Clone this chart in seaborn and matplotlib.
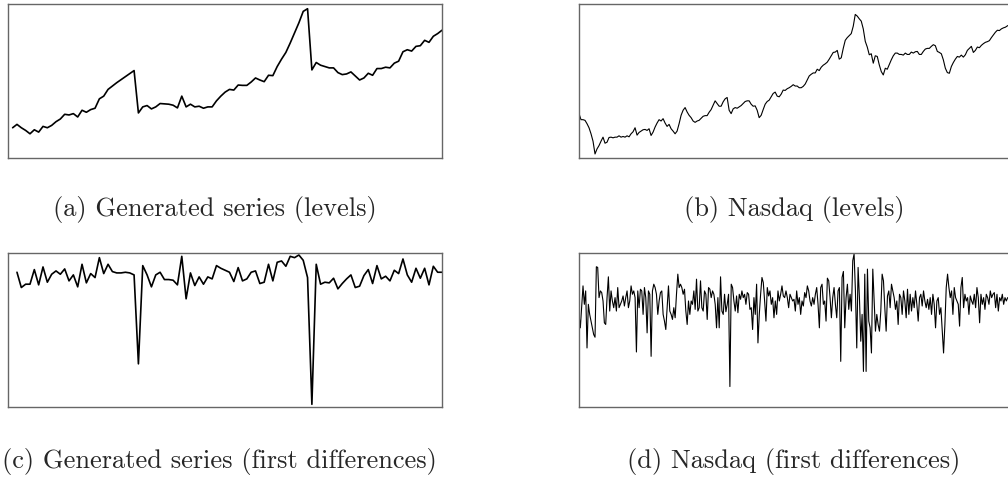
import numpy as np
import matplotlib
matplotlib.use("Agg")
import matplotlib.pyplot as plt
import seaborn as sns

# generated series, levels (index 0..99)
gen_levels = [9.0, 10.0, 9.0, 8.2, 7.2, 8.4, 7.7, 9.4, 9.0, 9.7,
              10.8, 11.6, 13.0, 12.8, 13.2, 12.2, 14.2, 13.6, 14.4, 14.8,
              17.6, 18.4, 20.4, 21.4, 22.4, 23.3, 24.2, 25.1, 26.0, 13.4,
              15.2, 15.6, 14.6, 15.2, 16.2, 16.1, 16.0, 15.7, 14.9, 18.4,
              15.2, 16.0, 15.2, 15.4, 14.8, 15.2, 15.2, 17.0, 18.4, 19.6,
              20.4, 20.2, 21.7, 21.6, 21.6, 22.6, 23.8, 23.2, 22.7, 24.6,
              24.5, 27.2, 29.4, 31.4, 34.2, 37.2, 40.2, 43.6, 44.4, 26.2,
              28.4, 27.6, 27.2, 26.8, 26.8, 25.4, 24.8, 25.0, 25.6, 24.4,
              23.2, 23.8, 25.2, 24.6, 26.6, 26.6, 27.0, 26.8, 28.2, 28.8,
              31.6, 32.2, 31.8, 33.2, 33.4, 35.0, 34.4, 36.2, 37.0, 38.0]

# generated series, first differences (index 1..99)
gen_diff = [0.8, -3.8, -2.8, -2.8, 1.6, -3.0, 2.4, -2.2, 0.2, 1.2,
            0.2, 1.8, -1.8, 0.0, -3.6, 3.2, -2.4, 0.4, -0.8, 5.2,
            0.4, 3.2, 1.0, 0.6, 0.6, 0.8, 0.6, 0.0, -26.8, 2.8,
            0.0, -3.6, 0.0, 0.8, -1.4, -1.4, -1.6, -3.0, 5.6, -7.2,
            0.6, -3.2, -0.6, -2.8, -0.6, -1.2, 2.8, 2.0, 1.4, 0.8,
            -2.0, 2.2, -1.8, -1.2, 0.8, 1.2, -2.6, -2.2, 3.2, -1.8,
            3.8, 4.2, 2.6, 5.6, 5.2, 6.0, 4.4, -0.8, -39.0, 3.2,
            -2.8, -2.2, -2.4, -1.0, -4.2, -2.6, -1.2, 0.0, -3.8, -3.4,
            -0.2, 1.6, -2.6, 2.8, -1.2, -0.4, -1.8, 1.4, 0.4, 4.8,
            0.0, -2.2, 2.0, -1.0, 2.0, -3.0, 2.6, 0.8, 0.8]

# nasdaq, levels
nasdaq_levels = [13.2, 11.4, 11.4, 11.2, 10.2, 9.0, 7.2, 5.0, 1.2, 2.7,
                 3.7, 5.0, 6.2, 4.4, 4.7, 6.1, 6.2, 6.0, 6.2, 6.2,
                 6.6, 6.2, 6.4, 6.2, 6.6, 6.3, 7.2, 7.8, 9.0, 6.8,
                 7.6, 8.0, 8.4, 8.5, 8.2, 8.7, 6.7, 7.7, 9.2, 10.4,
                 11.4, 11.0, 11.7, 10.4, 9.4, 10.0, 8.7, 8.0, 7.2, 8.0,
                 10.2, 12.7, 14.2, 15.0, 13.7, 12.7, 12.0, 11.0, 10.6, 11.0,
                 11.2, 11.8, 12.4, 12.6, 12.6, 13.6, 14.4, 15.7, 17.0, 16.2,
                 15.4, 15.4, 16.7, 17.6, 18.0, 14.2, 13.2, 14.6, 15.0, 14.8,
                 15.2, 15.6, 16.2, 16.8, 17.0, 17.0, 16.0, 15.4, 15.5, 14.2,
                 12.0, 12.7, 14.4, 16.0, 16.8, 17.2, 18.2, 19.2, 19.6, 18.4,
                 18.2, 19.0, 20.2, 20.1, 20.6, 20.9, 21.3, 21.8, 21.4, 21.4,
                 20.9, 20.9, 21.3, 22.0, 23.2, 24.4, 24.9, 25.3, 25.3, 26.4,
                 26.0, 27.0, 27.6, 28.0, 28.5, 29.4, 30.4, 31.4, 31.5, 32.0,
                 29.4, 29.8, 32.6, 35.0, 35.8, 36.4, 37.0, 39.2, 42.7, 42.2,
                 41.4, 40.7, 38.4, 34.7, 33.0, 30.7, 31.0, 28.2, 30.4, 30.2,
                 27.7, 25.7, 24.7, 26.7, 26.4, 27.8, 29.2, 30.4, 31.2, 31.2,
                 30.8, 30.8, 30.6, 31.2, 30.8, 30.8, 31.5, 31.2, 31.6, 31.7,
                 30.8, 30.8, 31.7, 32.4, 32.6, 32.6, 33.2, 33.7, 33.4, 31.7,
                 31.4, 31.0, 29.2, 26.7, 25.4, 25.2, 27.2, 28.4, 29.4, 30.2,
                 30.0, 30.6, 30.0, 30.7, 32.0, 32.6, 33.2, 31.4, 32.0, 33.0,
                 32.8, 33.5, 34.0, 34.4, 34.6, 34.9, 35.8, 36.6, 37.4, 38.0,
                 37.9, 38.4, 38.7, 38.9, 39.3, 39.6, 40.0, 40.2]

# nasdaq, first differences
nasdaq_diff = [-4.0, -8.0, -2.0, 4.5, -1.0, 3.0, -14.0, -1.0, -4.0, -6.0,
               -8.0, -10.0, -10.8, 10.2, 10.0, 1.0, 3.0, 2.5, 0.0, -6.5,
               -7.0, 1.0, 7.2, -3.0, 3.0, 0.0, -2.0, 1.0, -3.0, 4.0,
               -2.0, -1.0, 0.0, 1.5, -1.5, 1.0, 3.0, -2.0, 0.0, 4.5,
               2.0, 3.0, 1.0, -15.2, 3.0, -2.0, 3.5, 3.0, -4.0, 4.0,
               1.0, -9.5, 3.0, 2.0, -16.5, 3.0, 5.0, 4.0, 2.0, -4.0,
               0.0, 2.5, 3.0, -4.0, -6.0, -8.5, -2.0, 4.5, -3.0, -4.0,
               -5.5, -2.0, -5.0, 2.0, 8.0, 4.0, 5.0, 4.0, 2.0, 3.5,
               -3.0, -7.0, 0.0, -4.0, 0.0, -1.0, 3.0, -2.5, 6.5, -3.0,
               -2.0, 6.0, -2.0, -3.0, 3.0, 2.0, -5.5, 4.0, 3.5, 1.0,
               3.0, 2.0, -1.0, -8.0, 1.0, -8.0, 7.2, -3.0, -4.0, 2.0,
               -3.2, -1.0, 2.0, -25.5, 5.0, 4.0, 0.0, -3.0, 1.5, -3.5,
               2.0, 0.5, 3.0, 1.0, 2.0, -1.0, 2.5, 2.0, -2.5, -2.0,
               -8.5, 1.0, -4.0, 5.0, -12.5, -4.0, 2.0, 7.0, 5.5, 0.0,
               -6.0, 4.0, 1.5, 3.0, -1.0, 1.0, -5.0, 0.0, -4.0, 3.0,
               0.0, 2.0, 4.5, 1.5, 1.0, 3.0, 1.0, -2.0, 2.0, 1.0,
               0.0, 0.5,
               -3.0, 3.0, -1.0, 1.0, -4.0, 0.0, -1.5, 2.5, 1.0, 4.5,
               3.0, 0.0, -1.5, 1.0, -1.0, 2.0, 4.0, -1.0, -8.0, 4.0,
               5.0, -1.0, 0.0, -6.0, 6.8, 6.0, 1.0, -5.0, 1.0, 4.0,
               -1.0, -5.0, 3.0, 4.0, -18.0, 7.0, 8.8, -8.0, 1.0, 5.0,
               -2.5, 2.0, -3.0, 12.0, 14.0, 3.0, -14.0, 10.0, 1.0, -12.0,
               -4.0, -21.0, 8.0, -21.0, 9.5, -6.0, -8.0, -15.5, 9.5, 0.0,
               -9.0, -4.0, -7.0, -9.0, -3.0, 8.0, 6.0, -2.0, -9.0, 1.5,
               3.0, -2.0, 5.0, 3.0, 1.0, -2.5, 0.0, -7.0, 2.0, 1.0,
               -4.0, 3.0, 0.0, -5.0, 3.5, -4.0, 2.0, -3.0, 1.0, -2.0,
               3.0, -1.0, -6.0, 1.0, 2.0, -1.5, 3.0, 0.0, -2.0, 0.5,
               -2.5, 1.0, -4.0, 2.0, -1.0, -8.0, 0.0, 1.0, -4.0, -2.0,
               -9.0, -15.5, -7.0, 4.0, 8.0, 4.0, 1.0, 3.0, -4.0, 4.0,
               1.0, 0.0, -1.0, -7.5, 4.0, 7.0, -2.0, 2.0, 0.0, 1.0,
               -4.0, 1.5, 0.0, -1.0, 2.0, -2.0, 4.0, 1.0, -6.5, 2.0,
               -1.0, 1.0, -2.5, 2.0, 1.0, -1.0, 3.0, 1.0, 2.0, 2.5,
               -2.0, 2.0, -3.0, 1.0, 0.0, 2.0, -1.0, 1.0, 0.0, 1.0]

captions = ["(a) Generated series (levels)",
            "(b) Nasdaq (levels)",
            "(c) Generated series (first differences)",
            "(d) Nasdaq (first differences)"]

sns.set_style("white")

W, H = 1008, 482
fig = plt.figure(figsize=(W / 100, H / 100), dpi=100)

def box(left, top, width=434, height=154):
    return [left / W, 1 - (top + height) / H, width / W, height / H]

panels = [
    (box(8, 4), np.arange(len(gen_levels)), gen_levels, (-1.07, 99), (0, 45.8), 1.2),
    (box(579, 4), np.arange(len(nasdaq_levels)), nasdaq_levels, (0, 216.8), (0, 45.8), 0.8),
    (box(8, 253), np.arange(1, len(gen_diff) + 1), gen_diff, (-1.07, 99), (-39.8, 6.6), 1.2),
    (box(579, 253), np.arange(len(nasdaq_diff)), nasdaq_diff, (0, 325), (-31.6, 14.3), 0.8),
]

for rect, x, y, xl, yl, lw in panels:
    ax = fig.add_axes(rect)
    sns.lineplot(x=x, y=y, ax=ax, color="black", linewidth=lw)
    ax.set_xlim(*xl)
    ax.set_ylim(*yl)
    ax.set_xticks([])
    ax.set_yticks([])
    ax.set_xlabel("")
    ax.set_ylabel("")
    for s in ax.spines.values():
        s.set_color("#666666")
        s.set_linewidth(1.0)

# (c) nudged right a little so its opening bracket stays inside the canvas
cap_pos = [(215, 216), (794, 216), (219, 468), (794, 468)]
for (cx, cy), txt in zip(cap_pos, captions):
    fig.text(cx / W, 1 - cy / H, txt, ha="center", va="baseline",
             fontfamily="cmr10", fontsize=19)

fig.savefig("out.png", dpi=100)
